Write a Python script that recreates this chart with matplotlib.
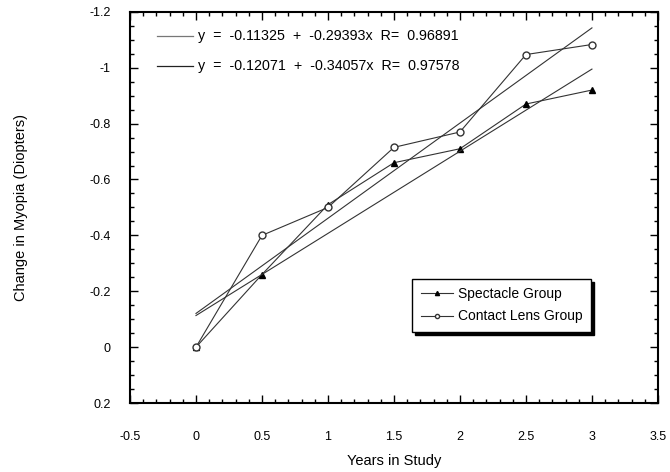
import matplotlib
matplotlib.use("Agg")
import matplotlib.pyplot as plt
from matplotlib.ticker import MultipleLocator, FormatStrFormatter

plt.rcParams['font.family'] = ['Liberation Sans', 'DejaVu Sans']
plt.rcParams['axes.unicode_minus'] = False

years = [0, 0.5, 1, 1.5, 2, 2.5, 3]
spectacle = [0, -0.26, -0.51, -0.66, -0.71, -0.87, -0.92]
contact = [0, -0.40, -0.50, -0.715, -0.77, -1.047, -1.083]

# Linear fits (intercept, slope, R)
fit_spectacle = (-0.11325, -0.29393, 0.96891)
fit_contact = (-0.12071, -0.34057, 0.97578)
fit_range = [0, 3]

xticks = [-0.5, 0, 0.5, 1, 1.5, 2, 2.5, 3, 3.5]
yticks = [-1.2, -1, -0.8, -0.6, -0.4, -0.2, 0, 0.2]

fig = plt.figure(figsize=(6.7, 4.72), dpi=100)
ax = fig.add_axes([0.194, 0.146, 0.788, 0.829])

lc = '#333333'
ax.plot(years, spectacle, color=lc, lw=0.8, marker='^', ms=5,
        mfc='black', mec='black', label='Spectacle Group')
ax.plot(years, contact, color=lc, lw=0.8, marker='o', ms=5,
        mfc='white', mec=lc, label='Contact Lens Group')

for (b0, b1, r) in (fit_spectacle, fit_contact):
    ax.plot(fit_range, [b0 + b1 * x for x in fit_range], color=lc, lw=0.8)

ax.set_xlim(-0.5, 3.5)
ax.set_ylim(0.2, -1.2)
ax.set_xticks(xticks)
ax.set_yticks(yticks)
ax.xaxis.set_major_formatter(FormatStrFormatter('%g'))
ax.yaxis.set_major_formatter(FormatStrFormatter('%g'))
ax.xaxis.set_minor_locator(MultipleLocator(0.1))
ax.yaxis.set_minor_locator(MultipleLocator(0.05))
ax.tick_params(which='both', direction='in', top=True, right=True,
               labelsize=9, width=1)
ax.tick_params(which='major', length=6)
ax.tick_params(which='minor', length=3)
ax.tick_params(axis='x', which='major', pad=20)
ax.tick_params(axis='y', which='major', pad=14)
for s in ax.spines.values():
    s.set_linewidth(1.5)

ax.set_xlabel('Years in Study', fontsize=10.5, labelpad=8)
ax.set_ylabel('Change in Myopia (Diopters)', fontsize=10.5, labelpad=44)

# Fit equations with line keys
eq_rows = [0.939, 0.862]
for yy, (b0, b1, r), col in zip(eq_rows, (fit_spectacle, fit_contact), ['#777777', '#222222']):
    ax.plot([0.051, 0.119], [yy, yy], transform=ax.transAxes, color=col, lw=0.9)
    ax.text(0.128, yy, f'y  =  {b0:.5f}  +  {b1:.5f}x  R=  {r:.5f}',
            transform=ax.transAxes, va='center', ha='left', fontsize=10.3)

leg = ax.legend(loc='center', bbox_to_anchor=(0.704, 0.25), fontsize=10,
                frameon=True, fancybox=False,
                shadow={'ox': 2, 'oy': -2, 'color': 'black', 'alpha': 1},
                edgecolor='black', framealpha=1, borderpad=0.6, handlelength=2.3,
                labelspacing=0.6, markerscale=0.6, handletextpad=0.4)
leg.get_frame().set_linewidth(1.0)

fig.savefig('out.png', dpi=100)
